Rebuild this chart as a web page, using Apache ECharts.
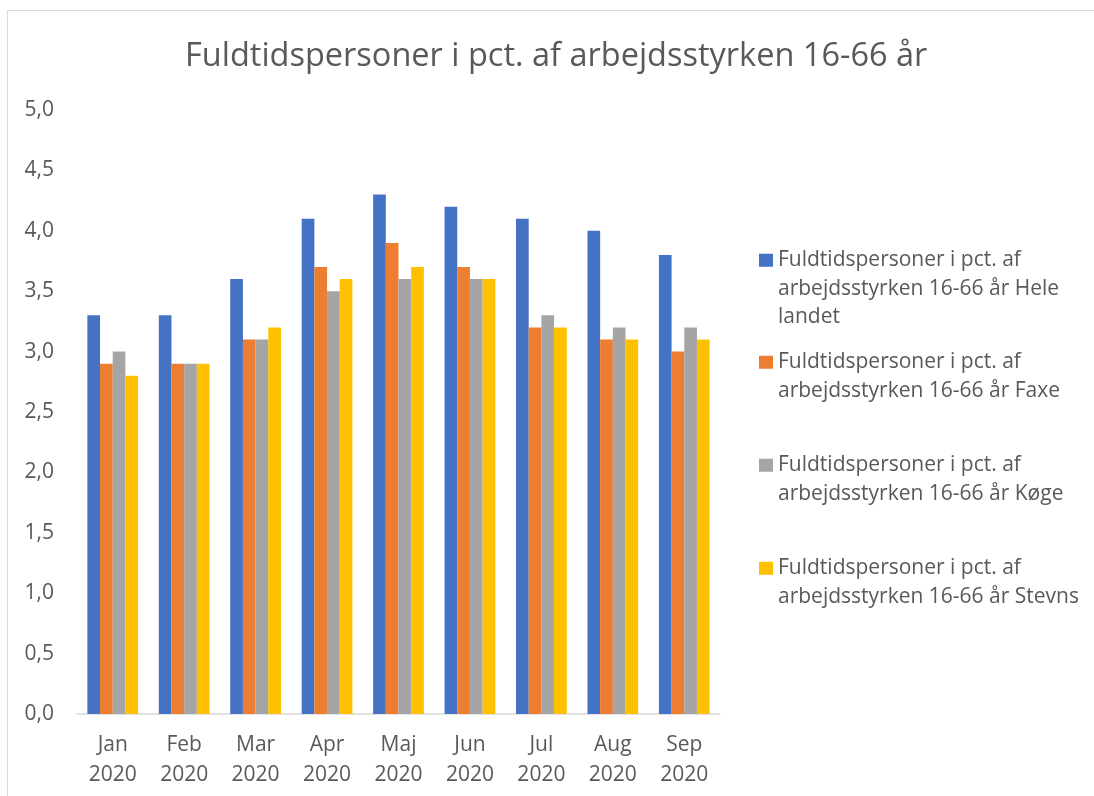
<!DOCTYPE html>
<html>
<head>
<meta charset="utf-8">
<script src="https://cdn.jsdelivr.net/npm/echarts@6/dist/echarts.min.js"></script>
<style>
html,body{margin:0;padding:0;background:#fff;}
#frame{position:absolute;left:7px;top:10px;width:1200px;height:900px;border-left:1.5px solid #d9d9d9;border-top:1.5px solid #d9d9d9;}
#chart{position:absolute;left:0;top:0;width:1094px;height:796px;}
</style>
</head>
<body>
<div id="frame"></div>
<div id="chart"></div>
<script>
const categories = ['Jan\n2020','Feb\n2020','Mar\n2020','Apr\n2020','Maj\n2020','Jun\n2020','Jul\n2020','Aug\n2020','Sep\n2020'];
const seriesNames = [
  'Fuldtidspersoner i pct. af arbejdsstyrken 16-66 år Hele landet',
  'Fuldtidspersoner i pct. af arbejdsstyrken 16-66 år Faxe',
  'Fuldtidspersoner i pct. af arbejdsstyrken 16-66 år Køge',
  'Fuldtidspersoner i pct. af arbejdsstyrken 16-66 år Stevns'
];
const legendLabels = [
  'Fuldtidspersoner i pct. af\narbejdsstyrken 16-66 år Hele\nlandet',
  'Fuldtidspersoner i pct. af\narbejdsstyrken 16-66 år Faxe',
  'Fuldtidspersoner i pct. af\narbejdsstyrken 16-66 år Køge',
  'Fuldtidspersoner i pct. af\narbejdsstyrken 16-66 år Stevns'
];
const heleLandet = [3.3,3.3,3.6,4.1,4.3,4.2,4.1,4.0,3.8];
const faxe      = [2.9,2.9,3.1,3.7,3.9,3.7,3.2,3.1,3.0];
const koege     = [3.0,2.9,3.1,3.5,3.6,3.6,3.3,3.2,3.2];
const stevns    = [2.8,2.9,3.2,3.6,3.7,3.6,3.2,3.1,3.1];
const seriesValues = [heleLandet, faxe, koege, stevns];
const colors = ['#4472C4','#ED7D31','#A5A5A5','#FFC000'];

const LH = 28.5;
const legendTops = [246, 348, 451, 554];
const textColor = '#595959';
const font = 'Open Sans';

function iconPath(lines){
  const h = lines*LH;
  const c = LH/2;
  return 'path://M0,0H14M0,' + (c-6.5) + 'H14V' + (c+6.5) + 'H0Z M0,' + h + 'H14';
}

const legends = seriesNames.map((n,i)=>{
  const lines = legendLabels[i].split('\n').length;
  return {
    show:true,
    orient:'vertical',
    left:759,
    top:legendTops[i],
    padding:0,
    selectedMode:false,
    itemWidth:14,
    itemHeight:lines*LH,
    itemGap:5,
    icon: iconPath(lines),
    data:[n],
    formatter:()=>legendLabels[i],
    textStyle:{fontFamily:font,fontSize:21,color:textColor,lineHeight:LH}
  };
});

const chart = echarts.init(document.getElementById('chart'), null, {renderer:'canvas'});
chart.setOption({
  animation:false,
  color:colors,
  title:{
    text:'Fuldtidspersoner i pct. af arbejdsstyrken 16-66 år',
    left:185, top:40, padding:0,
    textStyle:{fontFamily:font,fontSize:32.5,fontWeight:'normal',color:textColor}
  },
  legend:legends,
  grid:{left:77,right:374,top:110,bottom:82,containLabel:false},
  xAxis:{
    type:'category',
    data:categories,
    axisLine:{lineStyle:{color:'#d9d9d9',width:1.5}},
    axisTick:{show:false},
    axisLabel:{fontFamily:font,fontSize:21,color:textColor,lineHeight:30,margin:16,interval:0}
  },
  yAxis:{
    type:'value',
    min:0,max:5,interval:0.5,
    axisLine:{show:false},
    axisTick:{show:false},
    splitLine:{show:false},
    axisLabel:{fontFamily:font,fontSize:21,color:textColor,margin:23,
      formatter:v=>v.toFixed(1).replace('.',',')}
  },
  series:seriesNames.map((n,i)=>({
    name:n,
    type:'bar',
    data:seriesValues[i],
    barGap:'0%',
    barCategoryGap:'29%',
    itemStyle:{color:colors[i]}
  }))
});
</script>
</body>
</html>
